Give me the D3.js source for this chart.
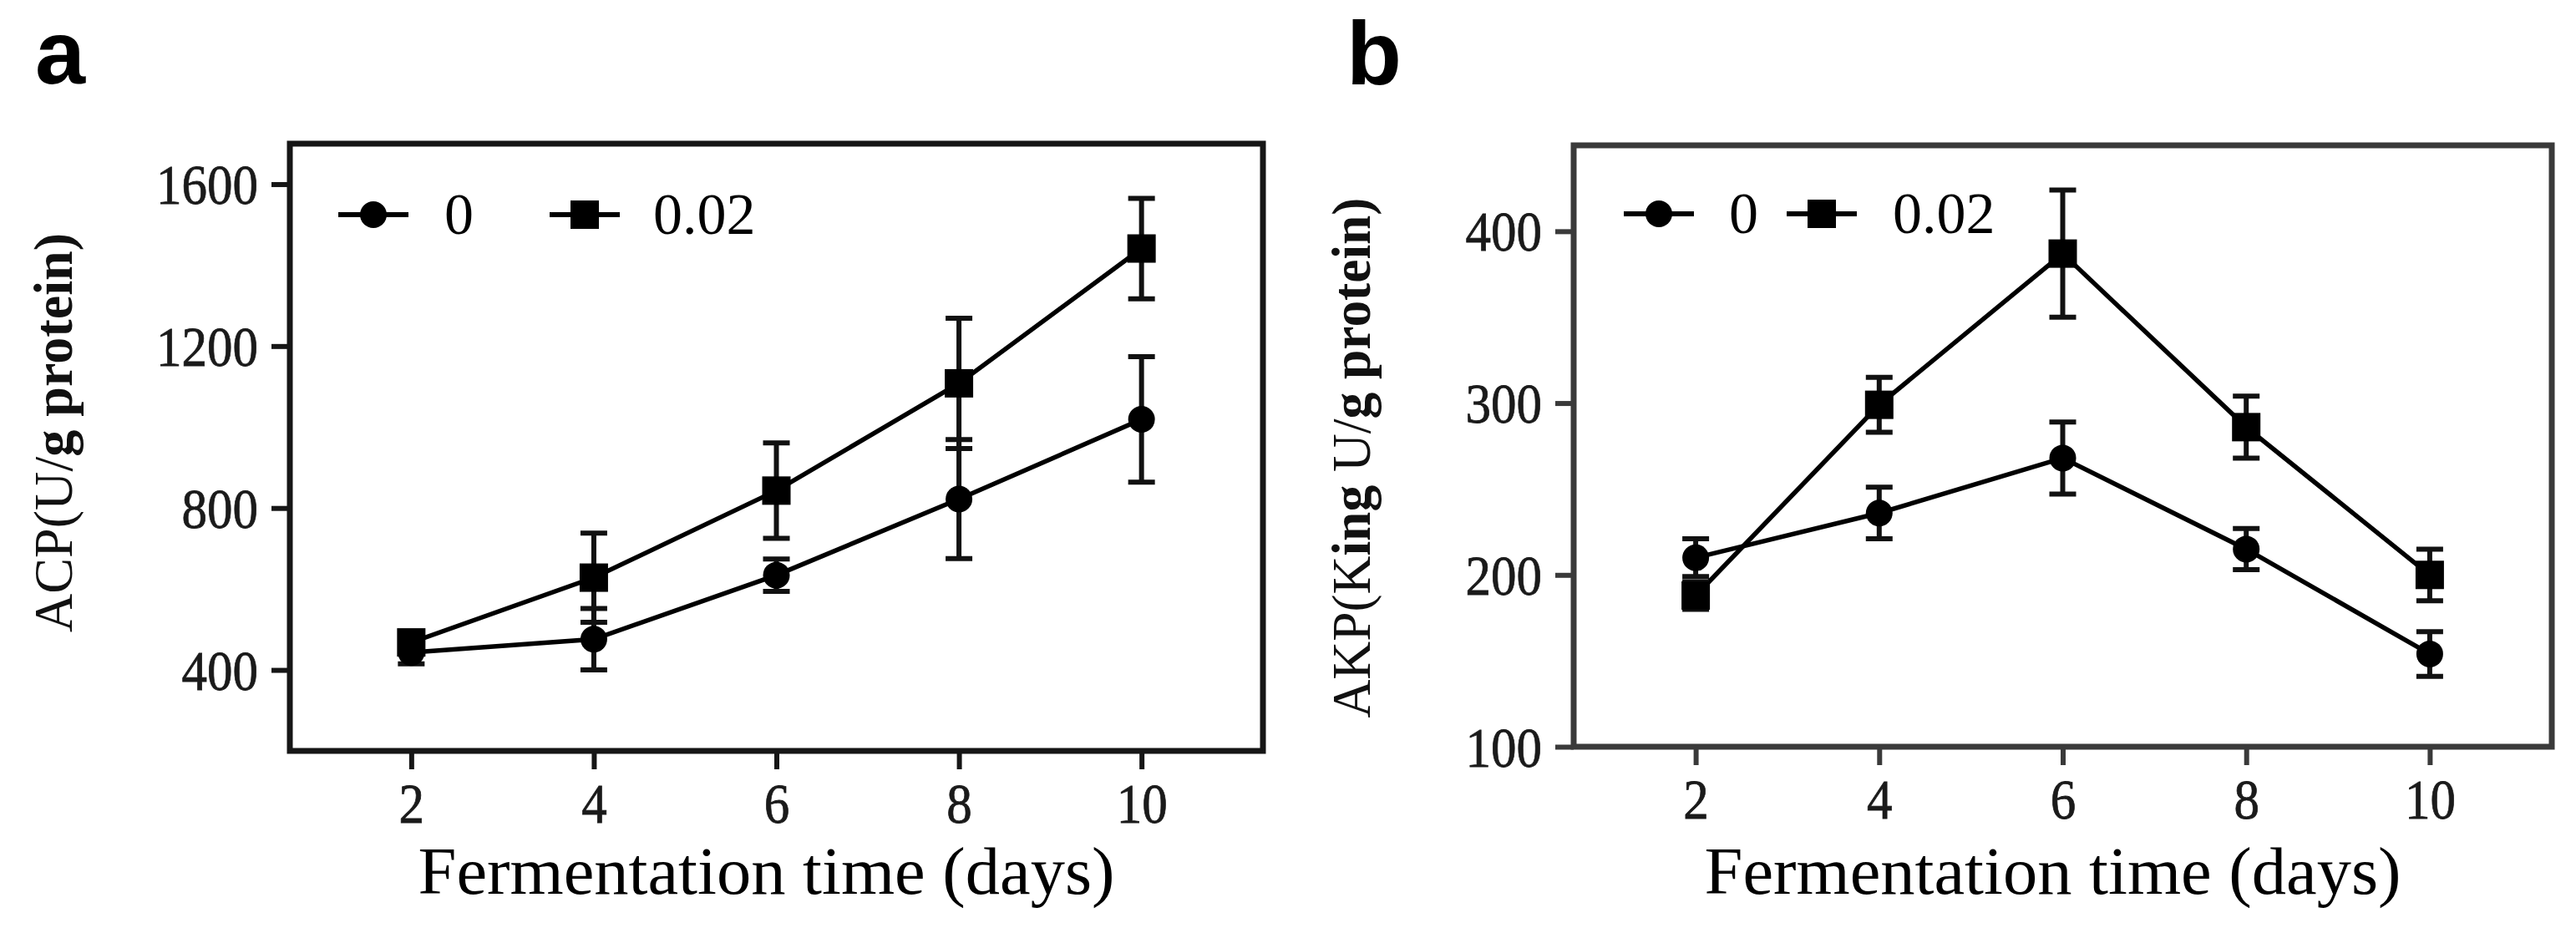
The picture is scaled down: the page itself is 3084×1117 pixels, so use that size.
<!DOCTYPE html>
<html>
<head>
<meta charset="utf-8">
<script src="https://cdn.jsdelivr.net/npm/d3@7/dist/d3.min.js"></script>
<style>
  html, body { margin: 0; padding: 0; background: #fff; }
  svg { display: block; }
</style>
</head>
<body>
<svg id="chart" width="3084" height="1117"></svg>
<script>
// ---------- data ----------
const days = [2, 4, 6, 8, 10];
const xTicks = [2, 4, 6, 8, 10];
const seriesNames = ["0", "0.02"];

// Panel a: ACP
const acp0 = [443, 476, 634, 822, 1019];
const acp0Err = [28, 76, 40, 147, 155];
const acp002 = [468, 628, 843, 1108, 1441];
const acp002Err = [15, 110, 118, 161, 124];
const acpTicks = [400, 800, 1200, 1600];

// Panel b: AKP
const akp0 = [210, 236, 268, 215, 154];
const akp0Err = [11, 15, 21, 12, 13];
const akp002 = [188, 299, 387, 286, 200];
const akp002Err = [8, 16, 37, 18, 15];
const akpTicks = [100, 200, 300, 400];

// ---------- layout ----------
const svg = d3.select("#chart");
svg.append("rect").attr("width", 3084).attr("height", 1117).attr("fill", "#fff");

const SERIF = "'Liberation Serif', 'Times New Roman', serif";
const SANS = "'Liberation Sans', Arial, sans-serif";

const panels = [
  {
    letter: "a", letterX: 42, letterY: 100,
    frame: { left: 347, right: 1512, top: 172, bottom: 899 },
    frameColor: "#161616",
    yDomain: [200, 1700], yTicks: acpTicks,
    s0: acp0, e0: acp0Err, s1: acp002, e1: acp002Err,
    yTitle: [["ACP(U/", "normal"], ["g protein)", "bold"]],
    yTitleX: 86, yTitleY: 518, yTitleLen: 478,
    legend: { y: 257, c0: 100, t0: 185, c1: 353, t1: 435 }
  },
  {
    letter: "b", letterX: 1612, letterY: 101,
    frame: { left: 1884, right: 3055, top: 174, bottom: 894 },
    frameColor: "#3a3a3a",
    yDomain: [100, 450], yTicks: akpTicks,
    s0: akp0, e0: akp0Err, s1: akp002, e1: akp002Err,
    yTitle: [["AKP(K", "normal"], ["ing", "bold"], [" U/", "normal"], ["g protein)", "bold"]],
    yTitleX: 1640, yTitleY: 548, yTitleLen: 623,
    legend: { y: 256, c0: 102, t0: 186, c1: 297, t1: 382 }
  }
];

function drawMarker(g, type, cx, cy) {
  if (type === "circle") {
    g.append("circle").attr("cx", cx).attr("cy", cy).attr("r", 16).attr("fill", "#000");
  } else {
    g.append("rect").attr("x", cx - 17).attr("y", cy - 17).attr("width", 34).attr("height", 34).attr("fill", "#000");
  }
}

panels.forEach(p => {
  const f = p.frame;
  const x = d3.scaleLinear().domain([0.67, 11.33]).range([f.left, f.right]);
  const y = d3.scaleLinear().domain(p.yDomain).range([f.bottom, f.top]);
  const g = svg.append("g");

  // panel letter
  g.append("text").attr("x", p.letterX).attr("y", p.letterY)
    .attr("font-family", SANS).attr("font-weight", "bold").attr("font-size", 108)
    .attr("fill", "#000").text(p.letter);

  // y axis ticks
  const yAxis = d3.axisLeft(y).tickValues(p.yTicks).tickSize(22).tickPadding(16).tickFormat(d3.format("d"));
  const ya = g.append("g").attr("transform", `translate(${f.left},0)`).call(yAxis);
  ya.select(".domain").remove();
  ya.selectAll(".tick line").attr("stroke", p.frameColor).attr("stroke-width", 6);
  ya.selectAll(".tick text")
    .attr("font-family", SERIF).attr("font-size", 68).attr("fill", "#1a1a1a")
    .attr("stroke", "#1a1a1a").attr("stroke-width", 0.8)
    .attr("dy", "0.34em")
    .each(function(d) {
      const s = String(d);
      d3.select(this).attr("textLength", s.length * 30.5).attr("lengthAdjust", "spacingAndGlyphs");
    });

  // x axis ticks
  const xAxis = d3.axisBottom(x).tickValues(xTicks).tickSize(22).tickPadding(16).tickFormat(d3.format("d"));
  const xa = g.append("g").attr("transform", `translate(0,${f.bottom})`).call(xAxis);
  xa.select(".domain").remove();
  xa.selectAll(".tick line").attr("stroke", p.frameColor).attr("stroke-width", 6);
  xa.selectAll(".tick text")
    .attr("font-family", SERIF).attr("font-size", 68).attr("fill", "#1a1a1a")
    .attr("stroke", "#1a1a1a").attr("stroke-width", 0.8)
    .attr("dy", "0.71em")
    .each(function(d) {
      const s = String(d);
      d3.select(this).attr("textLength", s.length * 30.5).attr("lengthAdjust", "spacingAndGlyphs");
    });

  // frame
  g.append("rect").attr("x", f.left).attr("y", f.top)
    .attr("width", f.right - f.left).attr("height", f.bottom - f.top)
    .attr("fill", "none").attr("stroke", p.frameColor).attr("stroke-width", 7);

  // x title
  g.append("text")
    .attr("x", (f.left + f.right) / 2 - 12).attr("y", 1070)
    .attr("text-anchor", "middle")
    .attr("font-family", SERIF).attr("font-size", 80).attr("fill", "#000")
    .attr("textLength", 834).attr("lengthAdjust", "spacingAndGlyphs")
    .text("Fermentation time (days)");

  // y title
  const yt = g.append("text")
    .attr("transform", `translate(${p.yTitleX},${p.yTitleY}) rotate(-90)`)
    .attr("text-anchor", "middle")
    .attr("font-family", SERIF).attr("font-size", 66).attr("fill", "#111")
    .attr("textLength", p.yTitleLen).attr("lengthAdjust", "spacingAndGlyphs");
  p.yTitle.forEach(([t, w]) => yt.append("tspan").attr("font-weight", w).text(t));

  // data
  const series = [
    { vals: p.s0, errs: p.e0, marker: "circle" },
    { vals: p.s1, errs: p.e1, marker: "square" }
  ];
  const line = d3.line().x((d, i) => x(days[i])).y(d => y(d));

  series.forEach(s => {
    g.append("path").datum(s.vals).attr("d", line)
      .attr("fill", "none").attr("stroke", "#000").attr("stroke-width", 5.5);
  });
  series.forEach(s => {
    s.vals.forEach((v, i) => {
      const cx = x(days[i]);
      const yt = y(v + s.errs[i]), yb = y(v - s.errs[i]);
      g.append("line").attr("x1", cx).attr("x2", cx).attr("y1", yt).attr("y2", yb)
        .attr("stroke", "#111").attr("stroke-width", 6);
      [yt, yb].forEach(yy => g.append("line")
        .attr("x1", cx - 16).attr("x2", cx + 16).attr("y1", yy).attr("y2", yy)
        .attr("stroke", "#111").attr("stroke-width", 6));
    });
  });
  series.forEach(s => {
    s.vals.forEach((v, i) => drawMarker(g, s.marker, x(days[i]), y(v)));
  });

  // legend
  const L = p.legend;
  [[L.c0, L.t0, "circle", seriesNames[0]], [L.c1, L.t1, "square", seriesNames[1]]].forEach(([c, t, m, name]) => {
    const cx = f.left + c;
    g.append("line").attr("x1", cx - 42).attr("x2", cx + 42).attr("y1", L.y).attr("y2", L.y)
      .attr("stroke", "#000").attr("stroke-width", 6);
    drawMarker(g, m, cx, L.y);
    g.append("text").attr("x", f.left + t).attr("y", L.y + 23)
      .attr("font-family", SERIF).attr("font-size", 70).attr("fill", "#000")
      .text(name);
  });
});
</script>
</body>
</html>
